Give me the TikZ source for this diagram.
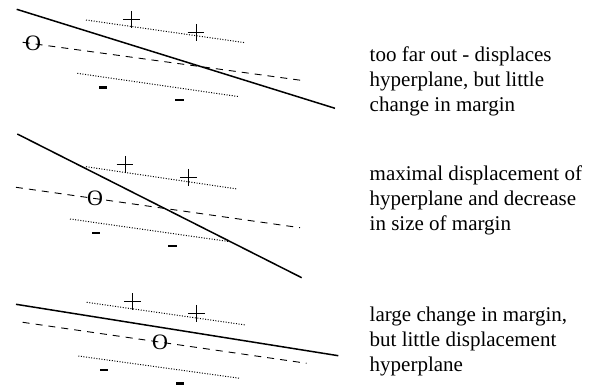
\documentclass[tikz,border=0pt]{standalone}
\usepackage{fontspec}
\setmainfont{Liberation Serif}
\begin{document}
\begin{tikzpicture}[x=1pt,y=-1pt,
  hyper/.style={line width=1.5pt},
  midline/.style={line width=0.9pt,dash pattern=on 7pt off 6pt},
  marginline/.style={line width=1pt,dash pattern=on 1pt off 1.6pt},
  osign/.style={inner sep=0pt,font={\fontsize{22}{22}\selectfont}},
  label/.style={anchor=base west,align=left,inner sep=0pt,font={\fontsize{21}{25}\selectfont}},
  plussign/.pic={\draw[line width=1pt] (-8.3,0)--(8.3,0) (0,-8.3)--(0,8.3);},
  minussign/.pic={\fill (-4.2,-1.2) rectangle (4.2,1.2);}]
\useasboundingbox (0,0) rectangle (590,385);
% ---- panel 1
\draw[hyper] (16.7,9.3) -- (335,108.3);
\draw[marginline] (86,20) -- (245,42.7);
\draw[marginline] (77.3,73.3) -- (239.3,96.7);
\draw[midline] (22.7,42.3) -- (306,81);
\node[osign] (o1) at (33,43.2) {O};
\pic at (131.7,19.3) {plussign};
\pic at (196,32.3) {plussign};
\pic at (103.2,87.7) {minussign};
\pic at (179.3,100) {minussign};
\node[label] (t1) at (369.5,111.7) {too far out - displaces\\hyperplane, but little\\change in margin};
% ---- panel 2
\draw[hyper] (17.3,134) -- (301.7,277.7);
\draw[marginline] (86,166.7) -- (237.3,189);
\draw[marginline] (70,219) -- (230,241.7);
\draw[midline] (16,187.3) -- (300,227.7);
\node[osign] (o2) at (95,198.7) {O};
\pic at (125,164.3) {plussign};
\pic at (188.3,177.3) {plussign};
\pic at (96,233.3) {minussign};
\pic at (172.3,246) {minussign};
\node[label] (t2) at (369.5,231) {maximal displacement of\\hyperplane and decrease\\in size of margin};
% ---- panel 3
\draw[hyper] (16,304.3) -- (338.3,355.7);
\draw[marginline] (86.7,302.3) -- (245.7,325);
\draw[marginline] (78.3,356) -- (240,378.3);
\draw[midline] (22.7,322.3) -- (306.7,363.3);
\node[osign] (o3) at (160,342.3) {O};
\pic at (132.7,301.7) {plussign};
\pic at (196.7,313.3) {plussign};
\pic at (104,370) {minussign};
\pic at (180,383.3) {minussign};
\node[label] (t3) at (369.5,371) {large change in margin,\\but little displacement\\hyperplane};
\end{tikzpicture}
\end{document}
